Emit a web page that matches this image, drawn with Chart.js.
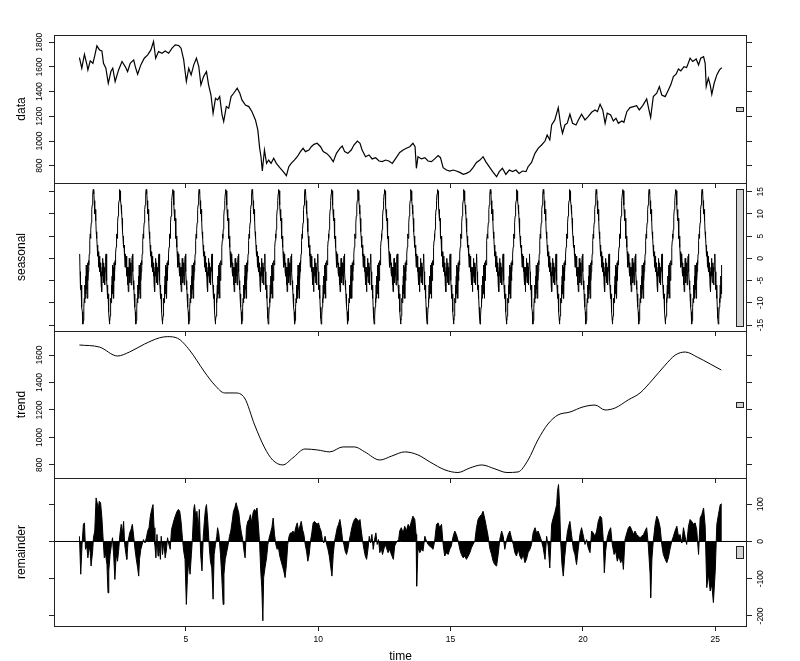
<!DOCTYPE html>
<html lang="en">
<head>
<meta charset="UTF-8">
<title>STL decomposition</title>
<script src="https://cdn.jsdelivr.net/npm/chart.js"></script>
<style>
  html, body { margin: 0; padding: 0; background: #fff; }
  .stage { position: relative; width: 800px; height: 661px; overflow: hidden; }
  .stage canvas { position: absolute; left: 0; top: 0; }
</style>
</head>
<body>
<div class="stage">
  <canvas id="pData" width="800" height="661"></canvas>
  <canvas id="pSeasonal" width="800" height="661"></canvas>
  <canvas id="pTrend" width="800" height="661"></canvas>
  <canvas id="pRemainder" width="800" height="661"></canvas>
</div>
<script>
// ---- values ----
const timeTicks = [5, 10, 15, 20, 25];

const dataTime = [0.98,1.07,1.17,1.26,1.30,1.39,1.49,1.56,1.64,1.74,1.83,1.89,1.98,2.07,2.17,2.24,2.33,2.46,2.59,2.71,
  2.80,2.90,3.03,3.09,3.18,3.30,3.43,3.56,3.68,3.78,3.86,3.97,4.10,4.22,4.35,4.48,4.60,4.73,4.82,4.92,
  5.02,5.11,5.20,5.30,5.40,5.49,5.57,5.67,5.78,5.86,5.95,6.03,6.12,6.20,6.28,6.37,6.43,6.53,6.62,6.71,
  6.81,6.94,7.04,7.12,7.25,7.38,7.50,7.63,7.72,7.79,7.84,7.89,7.97,8.05,8.13,8.22,8.32,8.42,8.55,8.68,
  8.80,8.89,8.98,9.10,9.21,9.33,9.43,9.52,9.65,9.74,9.84,9.96,10.09,10.19,10.32,10.44,10.57,10.69,10.82,10.91,
  11.00,11.12,11.25,11.35,11.48,11.58,11.66,11.79,11.92,12.04,12.17,12.30,12.42,12.55,12.67,12.80,12.93,
  13.08,13.21,13.33,13.46,13.58,13.66,13.71,13.77,13.90,14.03,14.15,14.28,14.40,14.53,14.62,14.72,14.85,14.97,15.10,15.22,
  15.35,15.48,15.60,15.73,15.85,15.98,16.11,16.23,16.33,16.46,16.59,16.74,16.84,16.96,17.09,17.22,17.34,17.47,17.59,17.72,
  17.85,17.93,18.06,18.19,18.31,18.44,18.57,18.65,18.75,18.82,18.94,19.07,19.16,19.23,19.32,19.41,19.51,19.61,19.74,19.83,
  19.95,20.08,20.20,20.33,20.46,20.55,20.65,20.75,20.84,20.92,21.05,21.15,21.25,21.34,21.47,21.55,21.66,21.78,21.91,22.03,
  22.13,22.26,22.41,22.51,22.56,22.66,22.79,22.89,22.98,23.11,23.23,23.32,23.42,23.52,23.61,23.70,23.82,23.92,24.05,24.15,
  24.28,24.37,24.45,24.56,24.62,24.66,24.74,24.81,24.87,24.96,25.06,25.16,25.25];
const dataValue = [1676,1590,1703,1622,1576,1649,1630,1692,1771,1738,1730,1630,1590,1468,1563,1590,1482,1576,1644,1603,
  1563,1630,1657,1603,1541,1617,1671,1698,1738,1806,1671,1725,1711,1730,1711,1752,1779,1774,1752,1657,
  1482,1590,1536,1617,1671,1603,1455,1522,1563,1455,1373,1225,1346,1333,1360,1211,1157,1279,1265,1360,
  1387,1428,1387,1333,1292,1279,1238,1171,1090,941,873,757,927,819,846,819,860,819,784,752,
  719,792,819,846,873,914,941,914,927,954,973,982,954,914,900,873,833,900,941,960,
  914,900,927,968,1000,982,927,873,887,855,865,838,833,846,838,819,860,
  908,927,941,954,982,954,779,873,855,865,838,833,855,882,865,784,765,757,765,757,
  746,730,738,752,784,827,846,873,833,792,752,711,752,779,730,765,752,765,738,757,
  752,792,827,900,941,968,1000,1049,1009,1130,1171,1271,1130,1063,1130,1144,1217,1144,1130,1171,
  1217,1171,1198,1233,1252,1238,1298,1252,1144,1225,1211,1163,1184,1144,1163,1152,1238,1271,1279,1287,
  1252,1287,1341,1238,1190,1360,1387,1441,1373,1360,1414,1455,1522,1541,1584,1568,1603,1595,1671,1644,
  1665,1617,1671,1684,1630,1441,1509,1455,1379,1468,1536,1576,1595];

// the seasonal component repeats every time unit: one period of 80 samples
const seasonalCycle = [1,-3,-5,-7,-6,-9,-8,-11,-12,-13.5,-14.8,-14,-13,-11,-9,-10,-6,-9,-4,-8,
  -1.5,-7,-2,-9,-1,-5,-3,-0.5,-1.5,1,2.5,4,5.5,4.5,6.5,8,9.5,11,12,13,
  14.5,15.5,14.5,15.2,13,12,10,11,8.5,9,6,4.5,5,2.5,3,0.5,1.5,-2,1,-1.5,
  0.5,-3,-1,-4,-2,-6,-3,-7.5,-2,-4,0,-3,-5.5,-1,-4,-2,-6,-3,-1,0.5];
const seasonalStart = 0.99;
const seasonalEnd = 25.25;

const trendTime = [0.98,1.74,2.42,2.87,3.44,4.00,4.30,4.69,5.14,5.71,6.09,6.47,6.85,7.22,7.60,7.98,8.28,8.66,9.04,9.50,
  9.98,10.44,10.93,11.38,11.76,12.33,12.78,13.27,13.77,14.22,14.79,15.28,15.73,16.18,16.68,17.13,17.55,17.93,18.30,18.68,
  19.06,19.51,20.00,20.46,20.84,21.22,21.71,22.16,22.62,23.11,23.49,23.87,24.32,24.81,25.23];
const trendValue = [1673,1658,1593,1622,1680,1725,1734,1722,1636,1476,1382,1324,1324,1287,1091,924,836,800,851,916,
  909,895,931,931,895,836,865,895,873,822,764,745,778,800,771,745,749,836,982,1098,
  1164,1185,1222,1236,1200,1215,1273,1324,1418,1527,1600,1622,1585,1535,1491];

const remainderTime = [0.98,1.03,1.08,1.13,1.17,1.21,1.26,1.30,1.35,1.39,1.42,1.48,1.51,1.56,1.61,1.65,1.69,1.73,1.78,1.83,
  1.87,1.92,1.97,2.02,2.06,2.09,2.14,2.19,2.23,2.28,2.32,2.37,2.42,2.46,2.51,2.56,2.60,2.65,2.69,2.74,
  2.77,2.82,2.88,2.93,2.98,3.03,3.08,3.13,3.18,3.22,3.25,3.30,3.35,3.40,3.46,3.51,3.56,3.61,3.66,3.71,
  3.76,3.80,3.83,3.87,3.91,3.95,3.98,4.04,4.07,4.12,4.17,4.22,4.26,4.31,4.36,4.41,4.46,4.51,4.56,4.62,
  4.67,4.72,4.77,4.82,4.87,4.92,4.97,5.02,5.06,5.11,5.16,5.21,5.25,5.30,5.33,5.38,5.42,5.47,5.51,5.56,
  5.61,5.66,5.70,5.74,5.78,5.83,5.88,5.93,5.98,6.03,6.07,6.12,6.17,6.20,6.25,6.31,6.36,6.41,6.44,6.49,
  6.54,6.60,6.65,6.70,6.75,6.80,6.85,6.90,6.95,7.00,7.05,7.10,7.15,7.20,7.24,7.29,7.34,7.39,7.44,7.49,
  7.54,7.59,7.64,7.69,7.74,7.79,7.83,7.87,7.91,7.94,7.99,8.05,8.10,8.15,8.20,8.25,8.30,8.35,8.40,8.45,
  8.50,8.55,8.60,8.65,8.70,8.75,8.80,8.85,8.90,8.95,9.00,9.05,9.10,9.15,9.21,9.26,9.31,9.36,9.41,9.46,
  9.51,9.56,9.61,9.66,9.71,9.76,9.81,9.86,9.91,9.96,10.01,10.06,10.11,10.16,10.21,10.26,10.32,10.37,10.42,10.47,
  10.52,10.57,10.62,10.67,10.72,10.77,10.82,10.87,10.92,10.97,11.02,11.07,11.12,11.17,11.22,11.27,11.32,11.37,11.42,11.48,
  11.53,11.58,11.63,11.68,11.73,11.78,11.83,11.88,11.93,11.98,12.03,12.08,12.13,12.18,12.23,12.28,12.33,12.38,12.43,12.48,
  12.53,12.58,12.64,12.69,12.74,12.79,12.84,12.89,12.94,12.99,13.04,
  13.08,13.14,13.21,13.27,13.33,13.40,13.46,13.52,13.58,13.65,13.70,13.72,13.77,13.84,13.90,13.96,14.03,14.09,14.15,14.21,
  14.28,14.34,14.40,14.47,14.53,14.59,14.66,14.72,14.78,14.85,14.91,14.97,15.03,15.10,15.16,15.22,15.29,15.35,15.41,15.48,
  15.54,15.60,15.67,15.73,15.79,15.85,15.92,15.98,16.04,16.11,16.17,16.23,16.30,16.36,16.42,16.48,16.55,16.61,16.67,16.74,
  16.80,16.86,16.93,16.99,17.05,17.12,17.18,17.24,17.30,17.37,17.43,17.49,17.56,17.62,17.68,17.75,17.81,17.87,17.93,18.00,
  18.06,18.12,18.19,18.25,18.31,18.38,18.44,18.50,18.57,18.63,18.69,18.75,18.82,18.88,18.94,19.01,19.04,19.08,19.12,19.16,
  19.21,19.26,19.31,19.36,19.41,19.46,19.51,19.57,19.64,19.70,19.76,19.83,19.89,19.95,20.02,20.08,20.14,20.20,20.27,20.33,
  20.39,20.46,20.52,20.58,20.65,20.71,20.77,20.81,20.86,20.92,20.99,21.05,21.11,21.18,21.24,21.30,21.36,21.43,21.49,21.53,
  21.59,21.66,21.72,21.78,21.84,21.91,21.97,22.03,22.10,22.16,22.22,22.29,22.35,22.41,22.47,22.54,22.56,22.61,22.66,22.73,
  22.79,22.85,22.92,22.98,23.04,23.11,23.17,23.23,23.29,23.36,23.42,23.48,23.55,23.61,23.67,23.74,23.80,23.86,23.92,23.99,
  24.05,24.11,24.18,24.24,24.30,24.37,24.43,24.49,24.56,24.62,24.68,24.74,24.81,24.87,24.93,25.00,25.06,25.12,25.19,25.25];
const remainderValue = [14,-88,-8,46,50,-21,-12,-44,-12,-30,-66,-26,10,28,117,104,86,108,104,63,
  14,-44,-35,-62,-138,-79,-35,-8,10,-44,-102,-35,-53,-26,19,46,19,54,-8,-35,
  -48,1,23,32,46,14,-21,-48,-71,-93,-48,-21,-8,5,-4,10,28,37,68,86,
  99,37,-8,-44,19,-39,1,-48,14,-35,0,-44,-26,10,-8,-21,32,46,59,72,
  81,86,81,54,10,-26,-48,-169,-97,-53,-88,-35,10,86,99,63,81,28,86,-35,
  -79,14,54,86,99,54,-8,-53,-71,-155,-35,-8,14,37,19,-35,-97,-169,-88,-48,
  -30,-8,14,28,54,81,90,104,90,77,46,23,5,-26,-44,37,54,59,72,50,
  77,86,81,90,46,-8,-79,-124,-213,-97,-71,-44,-8,10,23,37,63,19,-8,-21,
  -17,-39,-53,-66,-79,-97,-62,-8,14,23,23,28,19,37,50,28,41,54,32,19,
  -8,-26,-53,-35,1,23,50,54,50,46,50,37,28,5,-4,14,-8,-21,-39,-66,
  -93,-35,1,19,37,46,59,37,5,-8,-26,-35,-21,1,19,37,50,59,63,59,
  54,59,28,1,-21,-39,-48,-21,14,-4,19,-21,5,23,-8,5,-30,-17,-35,-21,
  -8,-17,-30,-21,-30,-39,-48,-12,-4,1,5,
  28,37,23,41,28,46,37,54,68,59,19,-120,-17,-30,-21,-26,14,1,-8,-12,
  -17,-21,1,46,50,37,46,-8,-39,-30,-35,-21,-12,14,28,19,1,-21,-35,-44,
  -39,-48,-39,-30,-17,-8,1,37,59,68,72,81,59,37,14,-17,-35,-53,-62,-66,
  -35,5,28,14,-21,5,19,28,10,-8,-30,-39,-21,-39,-48,-35,-57,-48,-30,-21,
  -8,23,37,23,28,14,1,-17,-48,14,-12,-71,46,63,77,99,135,153,99,1,
  -62,-93,-44,-8,23,41,54,19,-21,-35,-62,-17,19,37,14,-8,5,-17,-30,28,
  23,14,28,54,68,63,5,-84,-26,10,28,37,-8,-35,-26,-53,-39,-57,-44,-75,
  5,23,37,41,32,19,28,19,14,10,14,19,28,37,-8,-88,-151,-44,1,46,
  68,59,37,-8,-35,-48,-57,-44,-21,1,14,28,41,14,19,-4,37,14,-8,41,
  59,54,46,50,32,-35,63,72,90,41,-124,-88,-133,-115,-164,-79,46,72,99,101];

const dataTicks = [800, 1000, 1200, 1400, 1600, 1800];
const seasonalTicks = [-15, -10, -5, 0, 5, 10, 15];
const trendTicks = [800, 1000, 1200, 1400, 1600];
const remainderTicks = [-200, -100, 0, 100];

// ---- layout ----
const W = 800, H = 661;
const FONT = "'Liberation Sans', Arial, sans-serif";
const TICK_FONT = 8.5, TITLE_FONT = 12, TICK_LEN = 5, LABEL_GAP = 14;
const X_MIN = 0.02, X_MAX = 26.2;
const LEFT = 54, RIGHT = 747;
const INK = '#222';

function toPoints(xs, ys) {
  return xs.map((x, i) => ({x: x, y: ys[i]}));
}

function seasonalPoints() {
  const pts = [];
  const n = seasonalCycle.length;
  for (let c = seasonalStart; c < seasonalEnd; c += 1) {
    seasonalCycle.forEach((v, i) => {
      const t = c + i / n;
      if (t <= seasonalEnd) pts.push({x: t, y: v});
    });
  }
  return pts;
}

const measure = document.createElement('canvas').getContext('2d');
function labelPad(ticks) {
  measure.font = TICK_FONT + 'px ' + FONT;
  const w = Math.max(...ticks.map(t => measure.measureText(String(t)).width));
  return LABEL_GAP - TICK_LEN - w / 2;
}

// box round the plot region
const frame = {
  id: 'frame',
  afterDraw(chart) {
    const {ctx, chartArea: a} = chart;
    ctx.save();
    ctx.strokeStyle = INK;
    ctx.lineWidth = 1;
    ctx.strokeRect(Math.round(a.left) + 0.5, Math.round(a.top) + 0.5,
      Math.round(a.right - a.left) - 1, Math.round(a.bottom - a.top));
    ctx.restore();
  }
};

// grey range bar at the right edge of each panel
const rangeBar = {
  id: 'rangeBar',
  afterDraw(chart, args, opts) {
    if (opts.mid === undefined) return;
    const {ctx, scales: {x, y}} = chart;
    const x0 = Math.round(x.getPixelForValue(opts.x0)) + 0.5;
    const x1 = Math.round(x.getPixelForValue(opts.x1)) + 0.5;
    const y0 = Math.round(y.getPixelForValue(opts.mid + opts.half)) + 0.5;
    const y1 = Math.round(y.getPixelForValue(opts.mid - opts.half)) + 0.5;
    ctx.save();
    ctx.fillStyle = '#d3d3d3';
    ctx.strokeStyle = INK;
    ctx.lineWidth = 1;
    ctx.fillRect(x0, y0, x1 - x0, y1 - y0);
    ctx.strokeRect(x0, y0, x1 - x0, y1 - y0);
    ctx.restore();
  }
};

function fixedTicks(list) {
  return scale => { scale.ticks = list.map(v => ({value: v})); };
}

function makePanel(id, p) {
  const grid = {drawOnChartArea: false, drawTicks: true, tickLength: TICK_LEN, color: INK, lineWidth: 1};
  const tickFont = {family: FONT, size: TICK_FONT};
  const yTicks = (show) => ({
    display: show, minRotation: 90, maxRotation: 90, crossAlign: 'center',
    padding: labelPad(p.ticks), font: tickFont, color: '#000', callback: v => String(v)
  });
  return new Chart(document.getElementById(id), {
    type: 'line',
    data: {datasets: p.datasets},
    options: {
      responsive: false,
      animation: false,
      events: [],
      layout: {padding: {top: p.top, bottom: 0, left: 0, right: 0}},
      plugins: {
        legend: {display: false},
        tooltip: {enabled: false},
        rangeBar: {x0: 25.79, x1: 26.04, mid: p.barMid, half: 15.42}
      },
      scales: {
        x: {
          type: 'linear', position: 'bottom', min: X_MIN, max: X_MAX, offset: false,
          afterBuildTicks: fixedTicks(timeTicks),
          afterFit: s => { s.height = H - p.bottom; },
          grid: Object.assign({offset: false}, grid),
          border: {display: false},
          ticks: {display: !!p.xLabels, padding: 4, font: tickFont, color: '#000', maxRotation: 0, callback: v => String(v)},
          title: {display: !!p.xLabels, text: 'time', color: '#000', font: {family: FONT, size: TITLE_FONT}, padding: {top: 0, bottom: -3}}
        },
        y: {
          type: 'linear', position: 'left', min: p.min, max: p.max,
          afterBuildTicks: fixedTicks(p.ticks),
          afterFit: s => { s.width = LEFT; },
          grid: grid,
          border: {display: false},
          ticks: yTicks(p.labelSide === 'left'),
          title: {display: true, text: p.title, color: '#000', font: {family: FONT, size: TITLE_FONT}, padding: {top: 14, bottom: 0}}
        },
        y2: {
          type: 'linear', position: 'right', min: p.min, max: p.max,
          afterBuildTicks: fixedTicks(p.ticks),
          afterFit: s => { s.width = W - RIGHT; },
          grid: grid,
          border: {display: false},
          ticks: yTicks(p.labelSide === 'right')
        }
      }
    },
    plugins: [frame, rangeBar]
  });
}

const lineStyle = {borderColor: '#000', borderWidth: 1, pointRadius: 0, tension: 0, fill: false};

makePanel('pData', {
  top: 35, bottom: 183, min: 660, max: 1859, ticks: dataTicks, labelSide: 'left', title: 'data', barMid: 1260,
  datasets: [Object.assign({data: toPoints(dataTime, dataValue)}, lineStyle, {borderWidth: 1.2})]
});

makePanel('pSeasonal', {
  top: 183, bottom: 331, min: -16.35, max: 16.96, ticks: seasonalTicks, labelSide: 'right', title: 'seasonal', barMid: 0.3,
  datasets: [Object.assign({data: seasonalPoints()}, lineStyle)]
});

makePanel('pTrend', {
  top: 331, bottom: 478, min: 705, max: 1775, ticks: trendTicks, labelSide: 'left', title: 'trend', barMid: 1240,
  datasets: [Object.assign({data: toPoints(trendTime, trendValue), cubicInterpolationMode: 'monotone'}, lineStyle)]
});

// remainder is drawn as vertical lines from zero: a filled trace to the zero line
makePanel('pRemainder', {
  top: 478, bottom: 626, min: -227, max: 170.5, ticks: remainderTicks, labelSide: 'right', title: 'remainder', barMid: -28.25,
  xLabels: true,
  datasets: [
    Object.assign({data: [{x: X_MIN, y: 0}, {x: X_MAX, y: 0}]}, lineStyle),
    Object.assign({data: toPoints(remainderTime, remainderValue)}, lineStyle, {fill: 'origin', backgroundColor: '#000'})
  ]
});
</script>
</body>
</html>
